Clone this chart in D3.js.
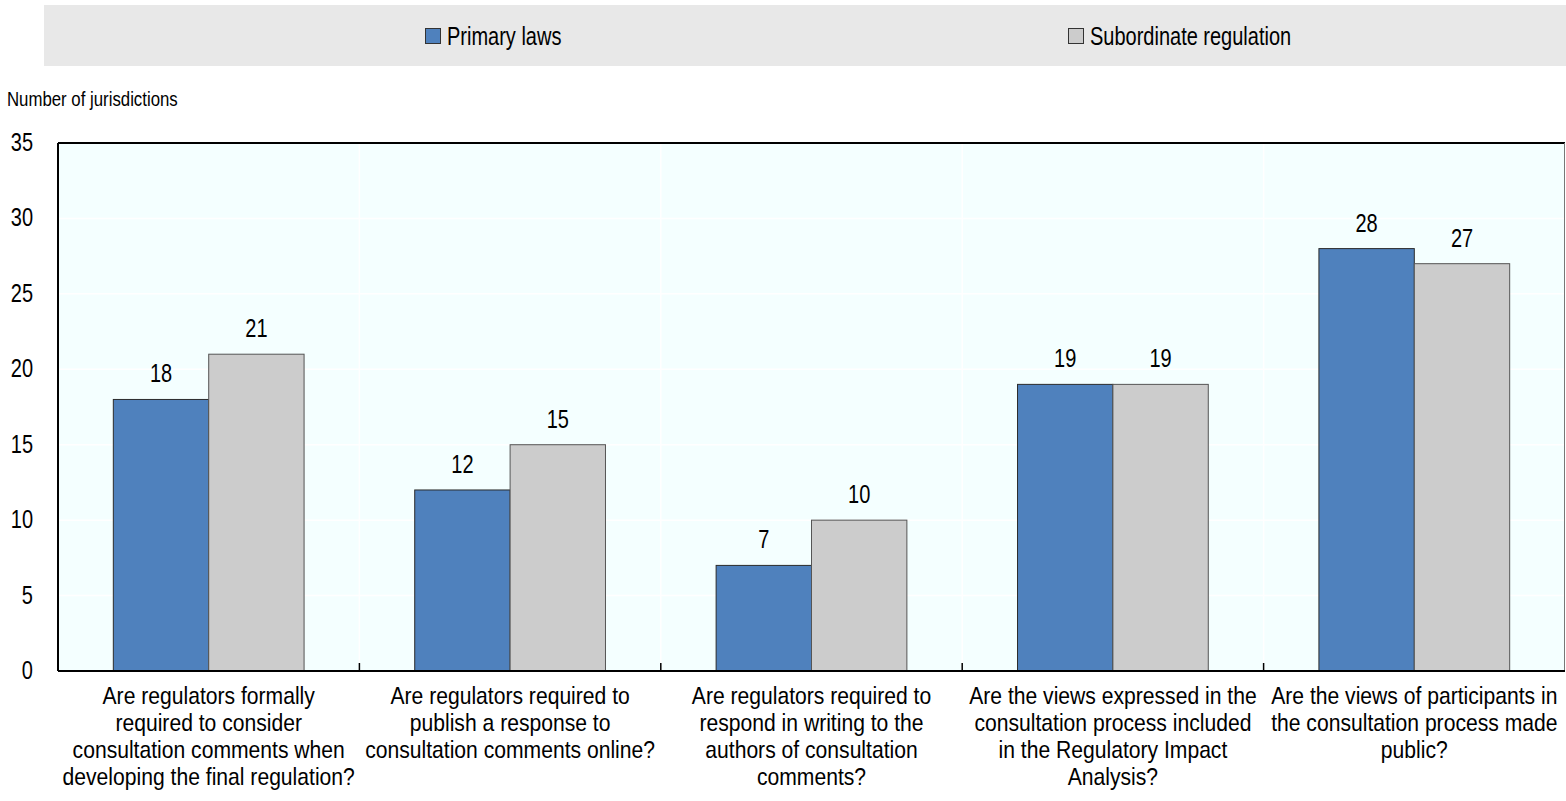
<!DOCTYPE html>
<html>
<head>
<meta charset="utf-8">
<script src="https://cdn.jsdelivr.net/npm/d3@7"></script>
<style>
  body { margin: 0; background: #fff; }
  svg text { font-family: "Liberation Sans", Arial, sans-serif; fill: #000; }
</style>
</head>
<body>
<div id="chart"></div>
<script>
const categories = [
    "Are regulators formally\nrequired to consider\nconsultation comments when\ndeveloping the final regulation?",
    "Are regulators required to\npublish a response to\nconsultation comments online?",
    "Are regulators required to\nrespond in writing to the\nauthors of consultation\ncomments?",
    "Are the views expressed in the\nconsultation process included\nin the Regulatory Impact\nAnalysis?",
    "Are the views of participants in\nthe consultation process made\npublic?"
];
const seriesNames = ["Primary laws", "Subordinate regulation"];
const primaryLaws = [18, 12, 7, 19, 28];
const subordinateRegulation = [21, 15, 10, 19, 27];
const yTicks = [0, 5, 10, 15, 20, 25, 30, 35];

const colors = ["#4F81BD", "#CCCCCC"];
const strokes = ["#2b2b2b", "#555555"];

const width = 1566, height = 801;
const plot = { left: 58, right: 1565, top: 143, bottom: 671 };

const svg = d3.select("#chart")
    .append("svg")
    .attr("width", width)
    .attr("height", height);

// Arial Narrow is not installed, so squeeze Liberation Sans horizontally
function narrowText(parent, x, y, str, size, sx, anchor) {
    return parent.append("text")
        .attr("transform", `translate(${x},${y}) scale(${sx},1)`)
        .attr("font-size", size)
        .attr("text-anchor", anchor || "start")
        .text(str);
}

// legend box
svg.append("rect")
    .attr("x", 44).attr("y", 5)
    .attr("width", 1522).attr("height", 61)
    .attr("fill", "#E8E8E8");

const legendX = [425, 1068];
seriesNames.forEach((name, i) => {
    svg.append("rect")
        .attr("x", legendX[i] + 0.5).attr("y", 28.5)
        .attr("width", 15).attr("height", 15)
        .attr("fill", colors[i])
        .attr("stroke", "#333").attr("stroke-width", 1);
    narrowText(svg, legendX[i] + 22, 45, name, 25, 0.8);
});

narrowText(svg, 7, 106, "Number of jurisdictions", 21, 0.8);

const x = d3.scaleBand()
    .domain(d3.range(categories.length))
    .range([plot.left, plot.right]);

const xInner = d3.scaleBand()
    .domain([0, 1])
    .range([0, x.bandwidth()])
    .paddingOuter(0.58);

const y = d3.scaleLinear()
    .domain([0, 35])
    .range([plot.bottom, plot.top]);

// background
svg.append("rect")
    .attr("x", plot.left).attr("y", plot.top)
    .attr("width", plot.right - plot.left).attr("height", plot.bottom - plot.top)
    .attr("fill", "#F4FFFF");

// horizontal gridlines
svg.append("g")
    .selectAll("line")
    .data(yTicks.slice(1, -1))
    .join("line")
    .attr("x1", plot.left).attr("x2", plot.right)
    .attr("y1", d => y(d)).attr("y2", d => y(d))
    .attr("stroke", "#fff").attr("stroke-width", 1.5);

// vertical gridlines at category boundaries
svg.append("g")
    .selectAll("line")
    .data(d3.range(1, categories.length))
    .join("line")
    .attr("x1", d => x(d)).attr("x2", d => x(d))
    .attr("y1", plot.top).attr("y2", plot.bottom)
    .attr("stroke", "#fff").attr("stroke-width", 1.5);

// frame
svg.append("line")
    .attr("x1", plot.left).attr("x2", plot.right)
    .attr("y1", plot.top).attr("y2", plot.top)
    .attr("stroke", "#000").attr("stroke-width", 2);
svg.append("line")
    .attr("x1", plot.left).attr("x2", plot.left)
    .attr("y1", plot.top).attr("y2", plot.bottom)
    .attr("stroke", "#000").attr("stroke-width", 2);
svg.append("line")
    .attr("x1", plot.right - 0.5).attr("x2", plot.right - 0.5)
    .attr("y1", plot.top).attr("y2", plot.bottom)
    .attr("stroke", "#777").attr("stroke-width", 1);

// bars
const series = [primaryLaws, subordinateRegulation];
series.forEach((vals, s) => {
    svg.append("g")
        .selectAll("rect")
        .data(vals)
        .join("rect")
        .attr("x", (d, i) => x(i) + xInner(s))
        .attr("y", d => y(d))
        .attr("width", xInner.bandwidth())
        .attr("height", d => y(0) - y(d))
        .attr("fill", colors[s])
        .attr("stroke", strokes[s])
        .attr("stroke-width", 1);

    const lg = svg.append("g");
    vals.forEach((d, i) => {
        narrowText(lg, x(i) + xInner(s) + xInner.bandwidth() / 2, y(d) - 17, d, 25, 0.8, "middle");
    });
});

// x axis line and ticks
svg.append("line")
    .attr("x1", plot.left).attr("x2", plot.right)
    .attr("y1", plot.bottom).attr("y2", plot.bottom)
    .attr("stroke", "#000").attr("stroke-width", 2);

svg.append("g")
    .selectAll("line")
    .data(d3.range(1, categories.length))
    .join("line")
    .attr("x1", d => x(d)).attr("x2", d => x(d))
    .attr("y1", plot.bottom).attr("y2", plot.bottom - 8)
    .attr("stroke", "#000").attr("stroke-width", 1.5);

// y tick labels
const yg = svg.append("g");
yTicks.forEach(t => narrowText(yg, 33, y(t) + 8, t, 25, 0.8, "end"));

// category labels, one text per category with a tspan per line
const catG = svg.append("g");
categories.forEach((c, i) => {
    const t = narrowText(catG, x(i) + x.bandwidth() / 2, 704, "", 24, 0.88, "middle");
    c.split("\n").forEach((line, j) => {
        t.append("tspan")
            .attr("x", 0)
            .attr("y", j * 27)
            .text(line);
    });
});
</script>
</body>
</html>
